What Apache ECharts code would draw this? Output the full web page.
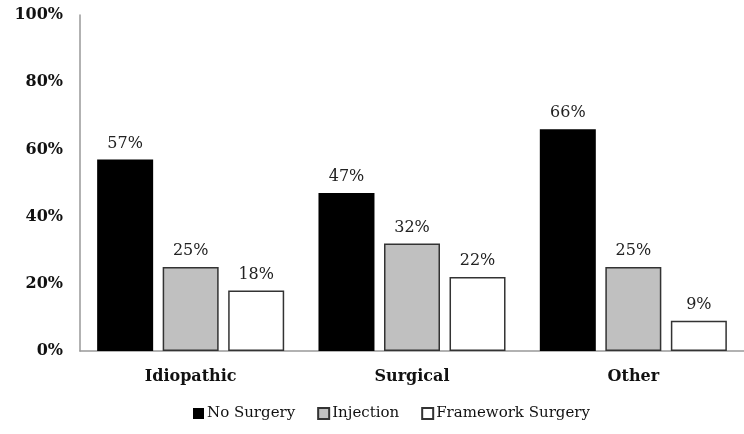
<!DOCTYPE html>
<html>
<head>
<meta charset="utf-8">
<script src="https://cdn.jsdelivr.net/npm/echarts@6/dist/echarts.min.js"></script>
<style>
  html, body { margin: 0; padding: 0; background: #fff; }
  #chart { width: 744px; height: 434px; }
</style>
</head>
<body>
<div id="chart"></div>
<script>
// Etiology groups and outcome shares (percent)
const categories = ['Idiopathic', 'Surgical', 'Other'];
const noSurgery = [57, 47, 66];
const injection = [25, 32, 25];
const framework = [18, 22, 9];
const seriesNames = ['No Surgery', 'Injection', 'Framework Surgery'];
const yTicks = [0, 20, 40, 60, 80, 100];

const FONT = 'DejaVu Serif';

const chart = echarts.init(document.getElementById('chart'));

const labelStyle = {
  show: true,
  position: 'top',
  distance: 8,
  formatter: p => p.value + '%',
  fontFamily: FONT,
  fontSize: 16,
  color: '#222'
};

function bar(name, data, fill, border) {
  return {
    name: name,
    type: 'bar',
    data: data,
    barWidth: 56,
    barGap: '17%',
    itemStyle: { color: fill, borderColor: border, borderWidth: border ? 1.5 : 0 },
    label: labelStyle
  };
}

chart.setOption({
  animation: false,
  textStyle: { fontFamily: FONT },
  grid: { left: 80, top: 15, height: 336, width: 676 },
  legend: {
    top: 401,
    left: 188,
    itemWidth: 11,
    itemHeight: 11,
    itemGap: 22,
    icon: 'rect',
    textStyle: { fontFamily: FONT, fontSize: 15, color: '#111', padding: [0, 0, 0, -2] },
    data: seriesNames
  },
  xAxis: {
    type: 'category',
    data: categories,
    axisLine: { lineStyle: { color: '#999', width: 1.5 } },
    axisTick: { show: false },
    axisLabel: { fontFamily: FONT, fontWeight: 'bold', fontSize: 16, color: '#111', margin: 18 }
  },
  yAxis: {
    type: 'value',
    min: yTicks[0],
    max: yTicks[yTicks.length - 1],
    interval: 20,
    axisLine: { show: true, lineStyle: { color: '#999', width: 1.5 } },
    axisTick: { show: false },
    splitLine: { show: false },
    axisLabel: {
      fontFamily: FONT, fontWeight: 'bold', fontSize: 16, color: '#111', margin: 17,
      formatter: v => v + '%'
    }
  },
  series: [
    bar(seriesNames[0], noSurgery, '#000000', null),
    bar(seriesNames[1], injection, '#c0c0c0', '#333333'),
    bar(seriesNames[2], framework, '#ffffff', '#333333')
  ]
});
</script>
</body>
</html>
